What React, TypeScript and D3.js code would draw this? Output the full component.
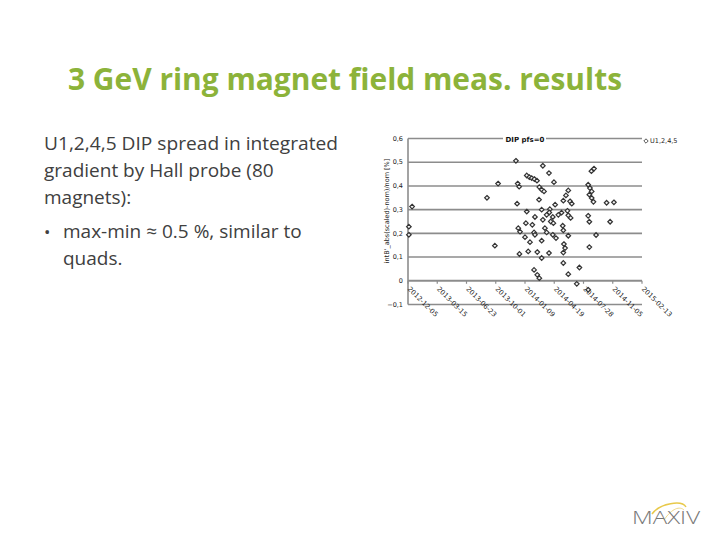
import React from 'react';
import * as d3 from 'd3';

const xTickLabels = ["2012-12-05", "2013-03-15", "2013-06-23", "2013-10-01", "2014-01-09", "2014-04-19", "2014-07-28", "2014-11-05", "2015-02-13"];
const yTicks = [-0.1, 0, 0.1, 0.2, 0.3, 0.4, 0.5, 0.6];
const seriesName = "U1,2,4,5";
const chartTitle = "DIP pfs=0";
const yAxisTitle = "intB'_abs(scaled)-nom)/nom [%]";

// days since 2012-12-05 of each measurement
const dayOffsets = [
  14, 3, 3, 270, 308, 297, 369, 375, 380, 373, 377, 383, 381,
  406, 415, 423, 432, 441, 406, 434, 403, 425, 431, 434, 400, 417, 411, 442, 431, 442, 449, 448,
  461, 482, 499, 449, 457, 465, 457, 485, 483, 474, 495, 461, 457, 457, 468, 474, 495, 506, 482, 488, 497, 514,
  531, 554, 560, 525, 545, 548, 556, 529, 531, 548, 533, 537, 531, 531, 548, 540, 548, 503,
  586, 577,
  627, 636, 616, 622, 628, 620, 628, 634, 616, 620, 620, 616, 643,
  679, 704, 691,
];
// deviation in %
const deviations = [
  0.313, 0.228, 0.194, 0.35, 0.41, 0.148, 0.506, 0.41, 0.397, 0.325, 0.222, 0.207, 0.113,
  0.444, 0.437, 0.433, 0.429, 0.422, 0.292, 0.269, 0.243, 0.236, 0.204, 0.194, 0.184, 0.163, 0.124, 0.121, 0.046, 0.025, 0.011, 0.342,
  0.485, 0.454, 0.416, 0.395, 0.384, 0.377, 0.30, 0.302, 0.288, 0.278, 0.269, 0.257, 0.169, 0.096, 0.222, 0.204, 0.194, 0.180, 0.117, 0.25, 0.243, 0.278,
  0.338, 0.335, 0.325, 0.287, 0.295, 0.276, 0.265, 0.232, 0.213, 0.19, 0.155, 0.138, 0.119, 0.075, 0.028, 0.36, 0.381, 0.321,
  0.056, -0.013,
  0.462, 0.473, 0.405, 0.391, 0.377, 0.363, 0.349, 0.333, 0.274, 0.249, 0.142, -0.038, 0.193,
  0.329, 0.331, 0.249,
];

const bodyLines = [
  "U1,2,4,5 DIP spread in integrated",
  "gradient by Hall probe (80",
  "magnets):",
];
const bulletLines = ["max-min ≈ 0.5 %, similar to", "quads."];
const slideTitle = "3 GeV ring magnet field meas. results";

const parse = d3.utcParse("%Y-%m-%d");

export default function App() {
  const tickDates = xTickLabels.map((s) => parse(s) as Date);
  const x = d3.scaleUtc().domain([tickDates[0], tickDates[tickDates.length - 1]]).range([408, 642]);
  const y = d3.scaleLinear().domain([-0.1, 0.6]).range([304.5, 138.5]);
  const points = dayOffsets.map((d, i) => ({ date: d3.utcDay.offset(tickDates[0], d), v: deviations[i] }));
  const grid = "#8c8c8c";
  const diamond = (cx: number, cy: number, r: number) =>
    `M${cx},${cy - r}L${cx + r},${cy}L${cx},${cy + r}L${cx - r},${cy}Z`;
  const font = "'DejaVu Sans', sans-serif";
  return (
    <svg width={720} height={540} style={{ position: 'absolute', left: 0, top: 0, background: '#fff' }}>
      <rect x={0} y={0} width={720} height={540} fill="#fff" />
      <text x={68} y={90} fontFamily="'Open Sans', Lato, sans-serif" fontWeight={700} fontSize={30} fill="#8cb33a" textLength={554} lengthAdjust="spacingAndGlyphs">{slideTitle}</text>
      {bodyLines.map((t, i) => (
        <text key={i} x={44} y={150 + i * 27} fontFamily="'Open Sans', Lato, sans-serif" fontSize={19} fill="#404040" textLength={i === 0 ? 294 : undefined} lengthAdjust="spacingAndGlyphs">{t}</text>
      ))}
      <text x={44} y={238} fontFamily="'Open Sans', sans-serif" fontSize={17} fill="#404040">•</text>
      {bulletLines.map((t, i) => (
        <text key={i} x={63} y={238 + i * 27} fontFamily="'Open Sans', Lato, sans-serif" fontSize={19} fill="#404040">{t}</text>
      ))}

      {/* gridlines */}
      {yTicks.map((t) => (
        <line key={t} x1={408} x2={642} y1={y(t)} y2={y(t)} stroke={grid} strokeWidth={t === 0 ? 2 : 1.6} />
      ))}
      <line x1={408} x2={408} y1={y(0.6)} y2={y(-0.1)} stroke={grid} strokeWidth={1.6} />
      {tickDates.map((d, i) => (
        <line key={i} x1={x(d)} x2={x(d)} y1={y(0)} y2={y(0) + 3} stroke={grid} strokeWidth={1.2} />
      ))}
      {yTicks.map((t) => (
        <text key={t} x={403} y={y(t)} dy="0.35em" textAnchor="end" fontFamily={font} fontSize={6.5} fill="#222">
          {t === 0 ? "0" : d3.format(".1f")(t).replace(".", ",")}
        </text>
      ))}
      {tickDates.map((d, i) => (
        <text key={i} transform={`translate(${x(d) + 1},${y(0) + 7}) rotate(45)`} dy="0.35em" fontFamily={font} fontSize={6.8} fill="#222">
          {xTickLabels[i]}
        </text>
      ))}
      <text transform={`translate(389,${211}) rotate(-90)`} textAnchor="middle" fontFamily={font} fontSize={6.5} fill="#222">{yAxisTitle}</text>

      {/* chart title with white backing */}
      <rect x={503} y={134} width={43} height={11} fill="#fff" />
      <text x={525} y={139.5} dy="0.35em" textAnchor="middle" fontFamily={font} fontWeight={700} fontSize={7} fill="#111">{chartTitle}</text>

      {/* legend */}
      <path d={diamond(646, 141, 2.2)} fill="#fff" stroke="#444" strokeWidth={0.9} />
      <text x={650} y={141} dy="0.35em" fontFamily={font} fontSize={6.5} fill="#222">{seriesName}</text>

      {/* points */}
      {points.map((p, i) => (
        <path key={i} d={diamond(x(p.date), y(p.v), 2.3)} fill="#f4f4f4" stroke="#333" strokeWidth={1.2} />
      ))}

      {/* logo */}
      <path d="M652,514 C660,503 682,500 686,507" fill="none" stroke="#e8c94a" strokeWidth={1.5} />
      <path d="M664,520 C672,508 680,506 684,510" fill="none" stroke="#efd98a" strokeWidth={1} />
      <text x={632} y={524} fontFamily="'Open Sans', sans-serif" fontWeight={300} fontSize={19} fill="#777" textLength={68} lengthAdjust="spacingAndGlyphs">MAXIV</text>
    </svg>
  );
}
